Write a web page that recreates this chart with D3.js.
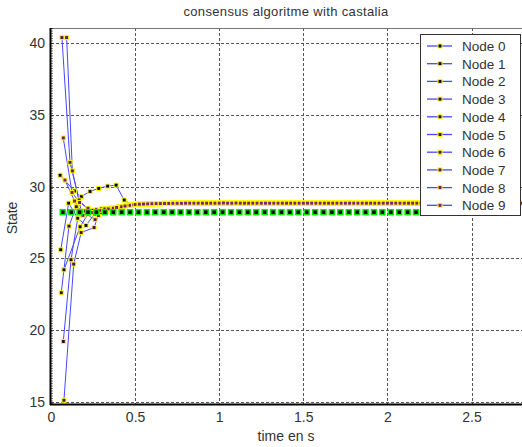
<!DOCTYPE html>
<html><head><meta charset="utf-8">
<script src="https://cdn.jsdelivr.net/npm/d3@7"></script>
<style>body{margin:0;background:#fff;} svg{display:block;} text{font-family:"Liberation Sans",Arial,sans-serif;fill:#333;}</style>
</head><body>
<svg id="c" width="522" height="447"></svg>
<script>
const title = "consensus algoritme with castalia";
const xLabel = "time en s";
const yLabel = "State";
const xTicks = [0, 0.5, 1, 1.5, 2, 2.5];
const yTicks = [15, 20, 25, 30, 35, 40];
const nodeNames = ["Node 0","Node 1","Node 2","Node 3","Node 4","Node 5","Node 6","Node 7","Node 8","Node 9"];

// early transient of each node (time, state)
const earlyT = [
  [0.054,0.139,0.18,0.232,0.284,0.337,0.387,0.435,0.475],
  [0.058,0.105,0.159,0.208,0.26,0.31,0.36,0.41,0.46],
  [0.077,0.173,0.22,0.27,0.32,0.37,0.42,0.47],
  [0.073,0.119,0.159,0.21,0.26,0.31,0.36,0.41,0.46],
  [0.061,0.107,0.15,0.2,0.25,0.3,0.35,0.4,0.45],
  [0.077,0.135,0.179,0.256,0.282,0.33,0.38,0.43,0.48],
  [0.065,0.113,0.167,0.22,0.27,0.32,0.37,0.42,0.47],
  [0.093,0.127,0.18,0.262,0.3,0.35,0.4,0.45],
  [0.073,0.125,0.17,0.22,0.27,0.32,0.37,0.42,0.47],
  [0.083,0.14,0.19,0.24,0.29,0.34,0.39,0.44,0.49]
];
const earlyV = [
  [30.8,29.7,29.3,29.67,29.88,30.04,30.11,29.07,28.75],
  [25.6,28.85,27.8,27.3,28.1,28.4,28.5,28.6,28.7],
  [24.2,27.2,28.1,28.3,28.45,28.5,28.6,28.7],
  [19.2,24.9,27.8,28.2,28.3,28.4,28.5,28.6,28.7],
  [22.6,27.25,28.6,28.3,28.35,28.45,28.5,28.6,28.7],
  [15.1,24.6,26.8,27.15,28.0,28.3,28.45,28.6,28.7],
  [40.4,31.7,29.07,28.4,28.3,28.4,28.5,28.6,28.7],
  [40.4,31.1,28.3,27.7,28.2,28.4,28.55,28.7],
  [33.4,29.6,28.9,28.5,28.4,28.45,28.5,28.6,28.7],
  [30.46,29.0,28.0,28.2,28.35,28.45,28.55,28.65,28.72]
];
// converged part (shared by all nodes)
const tailT = [0.5,0.525,0.55,0.575,0.6,0.625,0.65,0.675,0.7,0.725,0.75,0.775,0.8,0.825,0.85,0.875,0.9,0.925,0.95,0.975,
  1,1.025,1.05,1.075,1.1,1.125,1.15,1.175,1.2,1.225,1.25,1.275,1.3,1.325,1.35,1.375,1.4,1.425,1.45,1.475,
  1.5,1.525,1.55,1.575,1.6,1.625,1.65,1.675,1.7,1.725,1.75,1.775,1.8,1.825,1.85,1.875,1.9,1.925,1.95,1.975,
  2,2.025,2.05,2.075,2.1,2.125,2.15,2.175,2.2,2.225,2.25,2.275,2.3,2.325,2.35,2.375,2.4,2.425,2.45,2.475,
  2.5,2.525,2.55,2.575,2.6,2.625,2.65,2.675,2.7,2.725,2.75,2.775,2.8];
const tailV = [28.76,28.78,28.79,28.80,28.81,28.82,28.82,28.83,28.83,28.84,28.84,28.84,28.85,28.85,28.85,28.85,28.85,28.85,28.85,28.85,
  28.85,28.86,28.85,28.85,28.86,28.85,28.85,28.85,28.85,28.85,28.85,28.85,28.85,28.85,28.85,28.85,28.85,28.85,28.85,28.85,
  28.85,28.85,28.85,28.85,28.85,28.85,28.85,28.85,28.85,28.85,28.85,28.85,28.85,28.85,28.85,28.85,28.85,28.85,28.85,28.85,
  28.85,28.85,28.85,28.85,28.85,28.85,28.85,28.85,28.85,28.85,28.85,28.85,28.85,28.85,28.85,28.85,28.85,28.85,28.85,28.85,
  28.85,28.85,28.85,28.85,28.85,28.85,28.85,28.85,28.85,28.85,28.85,28.85,28.85];
// true average (green markers)
const avgT = [0.07,0.12,0.17,0.22,0.27,0.32,0.37,0.42,0.47,0.52,0.57,0.62,0.67,0.72,0.77,0.82,0.87,0.92,0.97,1.02,
  1.07,1.12,1.17,1.22,1.27,1.32,1.37,1.42,1.47,1.52,1.57,1.62,1.67,1.72,1.77,1.82,1.87,1.92,1.97,2.02,
  2.07,2.12,2.17,2.22,2.27,2.32,2.37,2.42,2.47,2.52,2.57,2.62,2.67,2.72,2.77];
const avgV = [28.22,28.22,28.22,28.22,28.22,28.22,28.22,28.22,28.22,28.22,28.22,28.22,28.22,28.22,28.22,28.22,28.22,28.22,28.22,28.22,
  28.22,28.22,28.22,28.22,28.22,28.22,28.22,28.22,28.22,28.22,28.22,28.22,28.22,28.22,28.22,28.22,28.22,28.22,28.22,28.22,
  28.22,28.22,28.22,28.22,28.22,28.22,28.22,28.22,28.22,28.22,28.22,28.22,28.22,28.22,28.22];
const faceColors = ["#000000","#0e030e","#1c061c","#2a0a2a","#380d38","#461046","#541454","#621762","#701a70","#7e1e7e"];

const svg = d3.select("#c");
const L = 51, R = 522, T = 28, B = 404;
const x = d3.scaleLinear().domain([0, 2.8]).range([L, R]);
const y = d3.scaleLinear().domain([14.84, 41.07]).range([B, T]);

svg.append("rect").attr("x", L).attr("y", T).attr("width", R - L).attr("height", B - T).attr("fill", "#fff");

// grid
const grid = svg.append("g");
grid.selectAll("line.gx").data(xTicks.filter(d => d > 0)).join("line")
  .attr("x1", d => Math.round(x(d)) + 0.5).attr("x2", d => Math.round(x(d)) + 0.5).attr("y1", T).attr("y2", B)
  .attr("stroke", "#555").attr("stroke-dasharray", "3,2");
grid.selectAll("line.gy").data(yTicks).join("line")
  .attr("x1", L).attr("x2", R).attr("y1", d => Math.round(y(d)) + 0.5).attr("y2", d => Math.round(y(d)) + 0.5)
  .attr("stroke", "#555").attr("stroke-dasharray", "3,2");

// border
svg.append("line").attr("x1", L).attr("x2", R).attr("y1", T + 0.5).attr("y2", T + 0.5).attr("stroke", "#777");
svg.append("line").attr("x1", L - 0.5).attr("x2", L - 0.5).attr("y1", T).attr("y2", B + 1).attr("stroke", "#000").attr("stroke-width", 2);
svg.append("line").attr("x1", L + 1).attr("x2", L + 1).attr("y1", T).attr("y2", B).attr("stroke", "#000").attr("stroke-dasharray", "1,1.5");
svg.append("line").attr("x1", L - 1).attr("x2", R).attr("y1", B + 0.5).attr("y2", B + 0.5).attr("stroke", "#000").attr("stroke-width", 2);

// axes
const xAxis = d3.axisBottom(x).tickValues(xTicks).tickSize(0).tickPadding(8).tickFormat(d3.format("~g"));
const gx = svg.append("g").attr("transform", `translate(0,${B})`).call(xAxis);
gx.select(".domain").remove();
gx.selectAll("text").attr("font-size", "14px").attr("fill", "#333").attr("font-family", "Liberation Sans, Arial, sans-serif");
const yAxis = d3.axisLeft(y).tickValues(yTicks).tickSize(0).tickPadding(6);
const gy = svg.append("g").attr("transform", `translate(${L},0)`).call(yAxis);
gy.select(".domain").remove();
gy.selectAll("text").attr("font-size", "14px").attr("fill", "#333").attr("font-family", "Liberation Sans, Arial, sans-serif");

// title & labels
svg.append("text").attr("x", 286).attr("y", 16).attr("text-anchor", "middle").attr("font-size", "13px").attr("letter-spacing", "0.35px").text(title);
svg.append("text").attr("x", 286).attr("y", 441).attr("text-anchor", "middle").attr("font-size", "14px").text(xLabel);
svg.append("text").attr("transform", "translate(17,218) rotate(-90)").attr("text-anchor", "middle").attr("font-size", "14px").text(yLabel);

// data
svg.append("clipPath").attr("id", "pc").append("rect").attr("x", L).attr("y", T).attr("width", R - L).attr("height", B - T);
const plot = svg.append("g").attr("clip-path", "url(#pc)");
const line = d3.line().x(d => x(d[0])).y(d => y(d[1]));
const series = nodeNames.map((n, i) => {
  const pts = earlyT[i].map((t, j) => [t, earlyV[i][j]]);
  tailT.forEach((t, j) => pts.push([t, tailV[j]]));
  return pts;
});
series.forEach(pts => {
  plot.append("path").datum(pts).attr("d", line).attr("fill", "none").attr("stroke", "#4848ff").attr("stroke-width", 1);
});
series.forEach((pts, i) => {
  plot.selectAll(null).data(pts).join("rect")
    .attr("x", d => x(d[0]) - 2).attr("y", d => y(d[1]) - 2).attr("width", 4).attr("height", 4)
    .attr("fill", faceColors[i]).attr("stroke", "#ffff00").attr("stroke-width", 1);
});
const avgPts = avgT.map((t, j) => [t, avgV[j]]);
plot.selectAll(null).data(avgPts).join("rect")
  .attr("x", d => x(d[0]) - 2.5).attr("y", d => y(d[1]) - 2.5).attr("width", 5).attr("height", 5)
  .attr("fill", "#000").attr("stroke", "#00ee00").attr("stroke-width", 1.5);

// legend
const lg = svg.append("g");
lg.append("rect").attr("x", 420.5).attr("y", 34.5).attr("width", 100).attr("height", 181).attr("fill", "#fff").attr("stroke", "#333");
nodeNames.forEach((n, i) => {
  const yy = 46 + i * 17.7;
  lg.append("line").attr("x1", 427).attr("x2", 452).attr("y1", yy).attr("y2", yy).attr("stroke", "#4848ff").attr("stroke-width", 1.3);
  lg.append("rect").attr("x", 438).attr("y", yy - 2).attr("width", 4).attr("height", 4).attr("fill", faceColors[i]).attr("stroke", "#ffff00").attr("stroke-width", 1);
  lg.append("text").attr("x", 462).attr("y", yy + 5).attr("font-size", "13.5px").attr("fill", "#333").text(n);
});
</script>
</body></html>
